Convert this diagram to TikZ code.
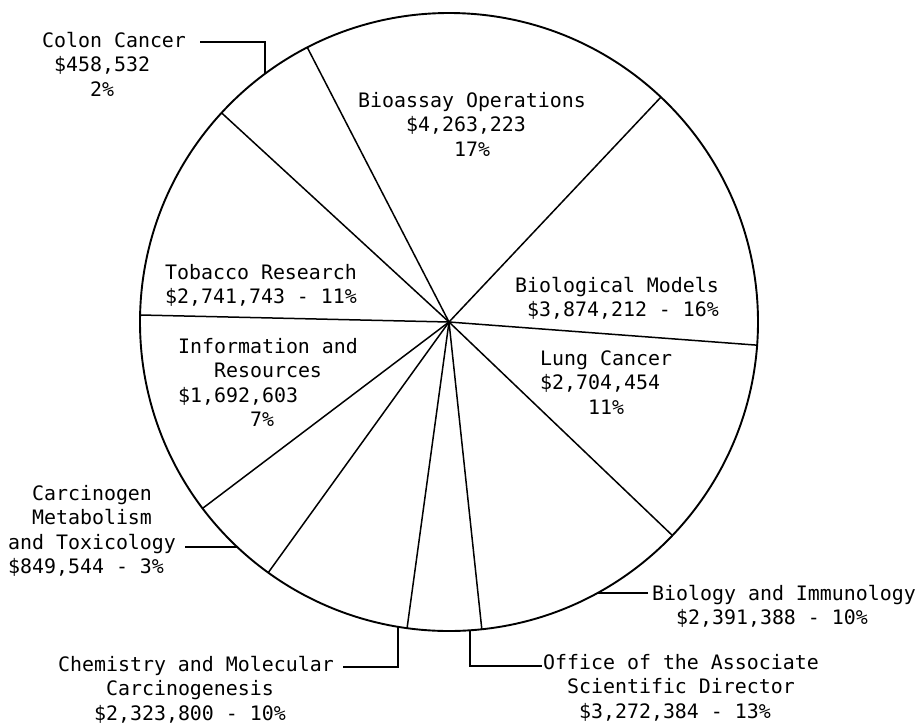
\documentclass[tikz,border=0pt]{standalone}
\usepackage{fontspec}
\newfontfamily\typefont{DejaVu Sans Mono}
% indent a line by the width of the given characters (monospaced)
\newcommand\pad[1]{\phantom{#1}}
\begin{document}
\begin{tikzpicture}[x=1pt,y=-1pt,
  rim/.style={line width=1.9pt},
  divider/.style={line width=1.5pt},
  leader/.style={line width=1.4pt},
  % base anchor of a multi-line node sits on its last line
  lbl/.style={anchor=base west, inner sep=0pt, align=left,
    font=\typefont\fontsize{19.9}{24.6}\selectfont}]
\useasboundingbox (0,0) rectangle (919,724);

% the pie
\coordinate (hub) at (449,322);
\draw[rim] (hub) circle[radius=309];
\foreach \a/\n in {46.7/a,117.3/b,137.4/c,178.7/d,217.1/e,234.2/f,262.2/g,276.1/h,316.3/i,355.7/j}{
  \path (hub) ++(-\a:309) coordinate (d\n);
  \draw[divider] (hub) -- (d\n);
}

% labels inside the slices
\node[lbl] (bioassay) at (358,156.2) {Bioassay Operations\\\pad{0000}\$4,263,223\\\pad{00000000}17\%};
\node[lbl] (biomodels) at (515,316.6) {Biological Models\\\pad{0}\$3,874,212 - 16\%};
\node[lbl] (lung) at (540,414.2) {Lung Cancer\\\$2,704,454\\\pad{0000}11\%};
\node[lbl] (tobacco) at (165,303.6) {Tobacco Research\\\$2,741,743 - 11\%};
\node[lbl] (info) at (178,426.8) {Information and\\\pad{000}Resources\\\$1,692,603\\\pad{000000}7\%};

% labels outside the pie
\node[lbl] (colon) at (42,96.2) {Colon Cancer\\\pad{0}\$458,532\\\pad{0000}2\%};
\node[lbl] (carcin) at (8,573.8) {\pad{00}Carcinogen\\\pad{00}Metabolism\\and Toxicology\\\$849,544 - 3\%};
\node[lbl] (chem) at (58,720.5) {Chemistry and Molecular\\\pad{0000}Carcinogenesis\\\pad{000}\$2,323,800 - 10\%};
\node[lbl] (office) at (543,718.2) {Office of the Associate\\\pad{00}Scientific Director\\\pad{000}\$3,272,384 - 13\%};
\node[lbl] (biology) at (652,624.6) {Biology and Immunology\\\pad{00}\$2,391,388 - 10\%};

% leader lines from the outside labels to their slices
\coordinate (colonA) at (200,42);
\coordinate (colonB) at (265,73.8);
\draw[leader] (colonA) -| (colonB);
\coordinate (carcinA) at (185,547);
\coordinate (carcinB) at (237.2,547);
\draw[leader] (carcinA) -- (carcinB);
\coordinate (chemA) at (343,667);
\coordinate (chemB) at (398,626.8);
\draw[leader] (chemA) -| (chemB);
\coordinate (officeA) at (542,666);
\coordinate (officeB) at (470,630.3);
\draw[leader] (officeA) -| (officeB);
\coordinate (biologyA) at (648,593);
\coordinate (biologyB) at (597.5,593);
\draw[leader] (biologyA) -- (biologyB);
\end{tikzpicture}
\end{document}
